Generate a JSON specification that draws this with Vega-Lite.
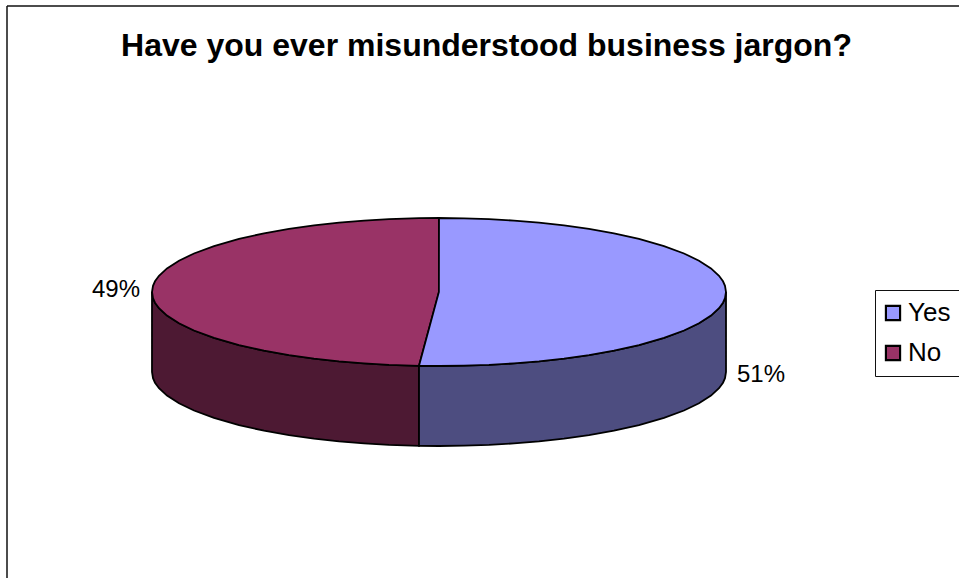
{
  "$schema": "https://vega.github.io/schema/vega-lite/v6.json",
  "width": 959,
  "height": 578,
  "autosize": "none",
  "padding": 0,
  "background": "white",
  "view": {"stroke": null},
  "title": {
    "text": "Have you ever misunderstood business jargon?",
    "font": "Liberation Sans",
    "fontSize": 32,
    "fontWeight": "bold",
    "color": "black",
    "anchor": "middle",
    "frame": "group",
    "baseline": "alphabetic",
    "offset": 0,
    "dx": 7,
    "dy": 88
  },
  "encoding": {
    "x": {"field": "across", "type": "quantitative", "axis": null, "scale": {"domain": [-439, 520], "nice": false, "zero": false}},
    "y": {"field": "level", "type": "quantitative", "axis": null, "scale": {"domain": [-286, 292], "nice": false, "zero": false}}
  },
  "datasets": {
    "rim": [
      {"answer": "No", "across": -287, "level": 0, "rimBase": -80},
      {"answer": "No", "across": -286, "level": -6.2, "rimBase": -86.2},
      {"answer": "No", "across": -284, "level": -10.7, "rimBase": -90.7},
      {"answer": "No", "across": -280, "level": -16.2, "rimBase": -96.2},
      {"answer": "No", "across": -272, "level": -23.6, "rimBase": -103.6},
      {"answer": "No", "across": -260, "level": -31.3, "rimBase": -111.3},
      {"answer": "No", "across": -245, "level": -38.5, "rimBase": -118.5},
      {"answer": "No", "across": -225, "level": -45.9, "rimBase": -125.9},
      {"answer": "No", "across": -200, "level": -53.1, "rimBase": -133.1},
      {"answer": "No", "across": -175, "level": -58.7, "rimBase": -138.7},
      {"answer": "No", "across": -150, "level": -63.1, "rimBase": -143.1},
      {"answer": "No", "across": -125, "level": -66.6, "rimBase": -146.6},
      {"answer": "No", "across": -100, "level": -69.4, "rimBase": -149.4},
      {"answer": "No", "across": -75, "level": -71.4, "rimBase": -151.4},
      {"answer": "No", "across": -50, "level": -72.9, "rimBase": -152.9},
      {"answer": "No", "across": -20, "level": -73.8, "rimBase": -153.8},
      {"answer": "Yes", "across": -20, "level": -73.8, "rimBase": -153.8},
      {"answer": "Yes", "across": 0, "level": -74, "rimBase": -154},
      {"answer": "Yes", "across": 25, "level": -73.7, "rimBase": -153.7},
      {"answer": "Yes", "across": 50, "level": -72.9, "rimBase": -152.9},
      {"answer": "Yes", "across": 75, "level": -71.4, "rimBase": -151.4},
      {"answer": "Yes", "across": 100, "level": -69.4, "rimBase": -149.4},
      {"answer": "Yes", "across": 125, "level": -66.6, "rimBase": -146.6},
      {"answer": "Yes", "across": 150, "level": -63.1, "rimBase": -143.1},
      {"answer": "Yes", "across": 175, "level": -58.7, "rimBase": -138.7},
      {"answer": "Yes", "across": 200, "level": -53.1, "rimBase": -133.1},
      {"answer": "Yes", "across": 225, "level": -45.9, "rimBase": -125.9},
      {"answer": "Yes", "across": 245, "level": -38.5, "rimBase": -118.5},
      {"answer": "Yes", "across": 260, "level": -31.3, "rimBase": -111.3},
      {"answer": "Yes", "across": 272, "level": -23.6, "rimBase": -103.6},
      {"answer": "Yes", "across": 280, "level": -16.2, "rimBase": -96.2},
      {"answer": "Yes", "across": 284, "level": -10.7, "rimBase": -90.7},
      {"answer": "Yes", "across": 286, "level": -6.2, "rimBase": -86.2},
      {"answer": "Yes", "across": 287, "level": 0, "rimBase": -80}
    ],
    "face": [
      {"answer": "No", "across": -287, "level": 0, "front": 0},
      {"answer": "No", "across": -286, "level": 6.2, "front": -6.2},
      {"answer": "No", "across": -284, "level": 10.7, "front": -10.7},
      {"answer": "No", "across": -280, "level": 16.2, "front": -16.2},
      {"answer": "No", "across": -272, "level": 23.6, "front": -23.6},
      {"answer": "No", "across": -260, "level": 31.3, "front": -31.3},
      {"answer": "No", "across": -245, "level": 38.5, "front": -38.5},
      {"answer": "No", "across": -225, "level": 45.9, "front": -45.9},
      {"answer": "No", "across": -200, "level": 53.1, "front": -53.1},
      {"answer": "No", "across": -175, "level": 58.7, "front": -58.7},
      {"answer": "No", "across": -150, "level": 63.1, "front": -63.1},
      {"answer": "No", "across": -125, "level": 66.6, "front": -66.6},
      {"answer": "No", "across": -100, "level": 69.4, "front": -69.4},
      {"answer": "No", "across": -75, "level": 71.4, "front": -71.4},
      {"answer": "No", "across": -50, "level": 72.9, "front": -72.9},
      {"answer": "No", "across": -20, "level": 73.8, "front": -73.8},
      {"answer": "No", "across": 0, "level": 74, "front": 0},
      {"answer": "Yes", "across": -20, "level": -73.8, "front": -73.8},
      {"answer": "Yes", "across": -0.1, "level": 0, "front": -74},
      {"answer": "Yes", "across": 0, "level": 74, "front": -74},
      {"answer": "Yes", "across": 25, "level": 73.7, "front": -73.7},
      {"answer": "Yes", "across": 50, "level": 72.9, "front": -72.9},
      {"answer": "Yes", "across": 75, "level": 71.4, "front": -71.4},
      {"answer": "Yes", "across": 100, "level": 69.4, "front": -69.4},
      {"answer": "Yes", "across": 125, "level": 66.6, "front": -66.6},
      {"answer": "Yes", "across": 150, "level": 63.1, "front": -63.1},
      {"answer": "Yes", "across": 175, "level": 58.7, "front": -58.7},
      {"answer": "Yes", "across": 200, "level": 53.1, "front": -53.1},
      {"answer": "Yes", "across": 225, "level": 45.9, "front": -45.9},
      {"answer": "Yes", "across": 245, "level": 38.5, "front": -38.5},
      {"answer": "Yes", "across": 260, "level": 31.3, "front": -31.3},
      {"answer": "Yes", "across": 272, "level": 23.6, "front": -23.6},
      {"answer": "Yes", "across": 280, "level": 16.2, "front": -16.2},
      {"answer": "Yes", "across": 284, "level": 10.7, "front": -10.7},
      {"answer": "Yes", "across": 286, "level": 6.2, "front": -6.2},
      {"answer": "Yes", "across": 287, "level": 0, "front": 0}
    ],
    "shares": [
      {"answer": "No", "share": 0.49, "across": -323, "level": 2},
      {"answer": "Yes", "share": 0.51, "across": 322, "level": -83}
    ],
    "frame": [
      {"across": -432, "right": 520, "level": 286, "bottom": -286}
    ]
  },
  "layer": [
    {
      "data": {"name": "frame"},
      "mark": {"type": "rule", "color": "#111111", "strokeWidth": 1.5},
      "encoding": {"y2": {"field": "bottom"}}
    },
    {
      "data": {"name": "frame"},
      "mark": {"type": "rule", "color": "#111111", "strokeWidth": 1.5},
      "encoding": {"x2": {"field": "right"}}
    },
    {
      "data": {"name": "rim"},
      "mark": {"type": "area", "stroke": "black", "strokeWidth": 1.8, "interpolate": "linear", "opacity": 1},
      "encoding": {
        "y2": {"field": "rimBase"},
        "detail": {"field": "answer"},
        "fill": {
          "field": "answer",
          "type": "nominal",
          "legend": null,
          "scale": {"domain": ["Yes", "No"], "range": ["#4D4D80", "#4D1933"]}
        }
      }
    },
    {
      "data": {"name": "face"},
      "mark": {"type": "area", "stroke": "black", "strokeWidth": 1.8, "interpolate": "linear", "opacity": 1},
      "encoding": {
        "y2": {"field": "front"},
        "detail": {"field": "answer"},
        "color": {
          "field": "answer",
          "type": "nominal",
          "scale": {"domain": ["Yes", "No"], "range": ["#9999FF", "#993366"]},
          "legend": {
            "title": null,
            "orient": "none",
            "legendX": 875,
            "legendY": 290,
            "strokeColor": "#111111",
            "fillColor": "white",
            "padding": 8,
            "clipHeight": 30,
            "symbolType": "square",
            "symbolSize": 200,
            "symbolOffset": -3,
            "symbolStrokeColor": "black",
            "symbolStrokeWidth": 2.2,
            "symbolOpacity": 1,
            "labelFont": "Liberation Sans",
            "labelFontSize": 26,
            "labelColor": "black",
            "labelOffset": 2,
            "rowPadding": 10
          }
        }
      }
    },
    {
      "data": {"name": "shares"},
      "mark": {"type": "text", "font": "Liberation Sans", "fontSize": 24, "color": "black", "baseline": "middle", "align": "center"},
      "encoding": {
        "text": {"field": "share", "type": "quantitative", "format": ".0%"}
      }
    }
  ],
  "resolve": {"scale": {"color": "independent"}}
}
